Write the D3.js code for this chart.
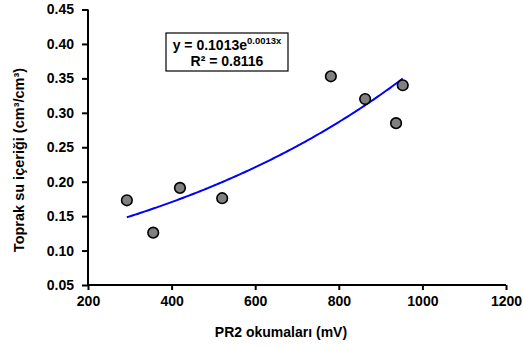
<!DOCTYPE html>
<html>
<head>
  <meta charset="utf-8">
  <script src="https://cdnjs.cloudflare.com/ajax/libs/d3/7.8.5/d3.min.js"></script>
  <style>
    body { margin: 0; background: #fff; }
    text { font-family: "Liberation Sans", Arial, sans-serif; font-weight: bold; }
  </style>
</head>
<body>
<script>
// PR2 readings (mV) and measured soil water content
var readings = [293, 356, 420, 521, 781, 863, 937, 953];
var moisture = [0.173, 0.126, 0.191, 0.176, 0.353, 0.320, 0.285, 0.340];
var xTicks = [200, 400, 600, 800, 1000, 1200];
var yTicks = [0.05, 0.10, 0.15, 0.20, 0.25, 0.30, 0.35, 0.40, 0.45];
// exponential trend y = a * e^(b x)
var fitA = 0.1013, fitB = 0.0013;

var W = 523, H = 346;
var svg = d3.select("body").append("svg").attr("width", W).attr("height", H);

var x = d3.scaleLinear().domain([200, 1200]).range([88, 506]);
var y = d3.scaleLinear().domain([0.05, 0.45]).range([285, 9.5]);

var xAxis = d3.axisBottom(x).tickValues(xTicks).tickSize(5).tickPadding(6).tickFormat(d3.format("d"));
var yAxis = d3.axisLeft(y).tickValues(yTicks).tickSize(6).tickPadding(8).tickFormat(d3.format(".2f"));

var gx = svg.append("g").attr("transform", "translate(0,285)").call(xAxis);
var gy = svg.append("g").attr("transform", "translate(88,0)").call(yAxis);
[gx, gy].forEach(function(g) {
  g.select(".domain").attr("stroke", "#000").attr("stroke-width", 2);
  g.selectAll(".tick line").attr("stroke", "#000").attr("stroke-width", 2);
  g.selectAll(".tick text").attr("fill", "#000").style("font-size", "14px");
});
gx.select(".domain").attr("d", "M88,0H506");
gy.select(".domain").attr("d", "M0,285V9.5");

// trend line over data range
var lo = d3.min(readings), hi = d3.max(readings);
var trend = d3.range(lo, hi + 1, 5).map(function(v) { return [v, fitA * Math.exp(fitB * v)]; });
svg.append("path")
  .datum(trend)
  .attr("fill", "none")
  .attr("stroke", "#0000ff")
  .attr("stroke-width", 2)
  .attr("d", d3.line().x(function(d) { return x(d[0]); }).y(function(d) { return y(d[1]); }));

svg.selectAll("circle.pt")
  .data(readings)
  .enter().append("circle")
  .attr("class", "pt")
  .attr("cx", function(d) { return x(d); })
  .attr("cy", function(d, i) { return y(moisture[i]); })
  .attr("r", 5.3)
  .attr("fill", "#808080")
  .attr("stroke", "#000")
  .attr("stroke-width", 1.6);

// equation box
svg.append("rect").attr("x", 166).attr("y", 33).attr("width", 122).attr("height", 38)
  .attr("fill", "#fff").attr("stroke", "#000").attr("stroke-width", 1.2);
var eq = svg.append("text").attr("x", 227).attr("y", 50).attr("text-anchor", "middle").style("font-size", "14px");
eq.append("tspan").text("y = 0.1013e");
eq.append("tspan").attr("dy", -6).style("font-size", "9.5px").text("0.0013x");
svg.append("text").attr("x", 227).attr("y", 66).attr("text-anchor", "middle").style("font-size", "14px")
  .text("R² = 0.8116");

svg.append("text").attr("x", 281).attr("y", 337).attr("text-anchor", "middle").style("font-size", "14px")
  .text("PR2 okumaları (mV)");
svg.append("text").attr("transform", "translate(23.5,160) rotate(-90)").attr("text-anchor", "middle").style("font-size", "14.5px")
  .text("Toprak su içeriği (cm³/cm³)");
</script>
</body>
</html>
